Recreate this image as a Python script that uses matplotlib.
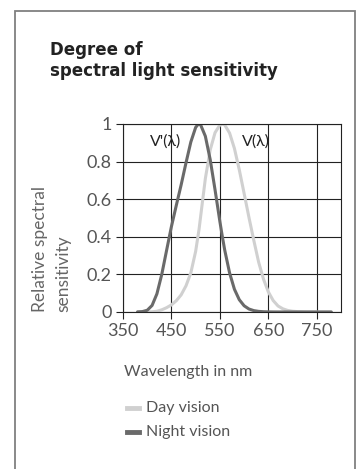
import matplotlib
matplotlib.use("Agg")
import matplotlib.pyplot as plt
from matplotlib.patches import Rectangle
from matplotlib.lines import Line2D

plt.rcParams['font.family'] = ['Lato', 'DejaVu Sans']

# wavelengths in nm
wavelength = [380, 390, 400, 410, 420, 430, 440, 450, 460, 470, 480, 490, 500, 505, 507,
              510, 520, 530, 540, 550, 555, 560, 570, 580, 590, 600, 610, 620, 630, 640,
              650, 660, 670, 680, 690, 700, 710, 720, 730, 740, 750, 760, 770, 780]
# V(lambda), day vision
day_vision = [0.00004, 0.00012, 0.0004, 0.0012, 0.004, 0.0116, 0.023, 0.038, 0.06, 0.091,
              0.139, 0.208, 0.323, 0.407, 0.44, 0.503, 0.71, 0.862, 0.954, 0.995, 1.0, 0.995,
              0.952, 0.87, 0.757, 0.631, 0.503, 0.381, 0.265, 0.175, 0.107, 0.061, 0.032,
              0.017, 0.0082, 0.0041, 0.0021, 0.001, 0.0005, 0.00025, 0.00012, 0.00006,
              0.00003, 0.00002]
# V'(lambda), night vision
night_vision = [0.0006, 0.0022, 0.0093, 0.0348, 0.0966, 0.1998, 0.3281, 0.455, 0.567, 0.676,
                0.793, 0.904, 0.982, 0.998, 1.0, 0.997, 0.935, 0.811, 0.65, 0.481, 0.402,
                0.329, 0.208, 0.121, 0.0655, 0.0332, 0.0159, 0.0074, 0.0033, 0.0015, 0.0007,
                0.0003, 0.00015, 0.00007, 0.00004, 0.00002, 0.00001, 0.0, 0.0, 0.0, 0.0,
                0.0, 0.0, 0.0]

x_ticks = [350, 450, 550, 650, 750]
y_ticks = [0, 0.2, 0.4, 0.6, 0.8, 1]
y_tick_labels = ['0', '0.2', '0.4', '0.6', '0.8', '1']

day_color = '#d0d0d0'
night_color = '#6a6a6a'

fig = plt.figure(figsize=(3.61, 4.69), dpi=100)

# outer frame
fig.patches.append(Rectangle((15 / 361, -0.05), 340 / 361, 1.05 - 11 / 469,
                             transform=fig.transFigure, fill=False,
                             edgecolor='#808080', linewidth=1.3))

fig.text(50 / 361, 1 - 41 / 469, 'Degree of\nspectral light sensitivity',
         fontsize=12, fontweight='bold', color='#222222', va='top', ha='left',
         linespacing=1.25, family=['DejaVu Sans'])

ax = fig.add_axes([123 / 361, 1 - 312 / 469, 218 / 361, 188 / 469])
ax.plot(wavelength, day_vision, color=day_color, linewidth=2.2, solid_capstyle='round')
ax.plot(wavelength, night_vision, color=night_color, linewidth=2.2, solid_capstyle='round')

ax.set_xlim(350, 800)
ax.set_ylim(0, 1)
ax.set_xticks(x_ticks)
ax.set_yticks(y_ticks)
ax.set_yticklabels(y_tick_labels)
ax.grid(True, color='#222222', linewidth=0.8)
for s in ax.spines.values():
    s.set_color('#222222')
    s.set_linewidth(0.8)
ax.tick_params(direction='out', length=5, width=0.8, color='#222222',
               labelsize=13, labelcolor='#555555', pad=3)

ax.text(437, 0.905, "V'(λ)", fontsize=11.5, color='#222222', ha='center', va='center')
ax.text(625, 0.905, "V(λ)", fontsize=11.5, color='#222222', ha='center', va='center')

fig.text(32 / 361, 1 - 312 / 469, 'Relative spectral\nsensitivity', rotation=90,
         fontsize=12.5, color='#666666', ha='left', va='bottom', multialignment='left',
         linespacing=1.6)

fig.text(124 / 361, 1 - 372 / 469, 'Wavelength in nm', fontsize=11.5, color='#555555',
         ha='left', va='center')

# legend
for yy, col, name in [(408, day_color, 'Day vision'), (432, night_color, 'Night vision')]:
    fig.lines.append(Line2D([127 / 361, 139 / 361], [1 - yy / 469, 1 - yy / 469],
                            transform=fig.transFigure, color=col, linewidth=3.5))
    fig.text(146 / 361, 1 - yy / 469, name, fontsize=11.5, color='#555555',
             ha='left', va='center')

fig.savefig('out.png', dpi=100)
